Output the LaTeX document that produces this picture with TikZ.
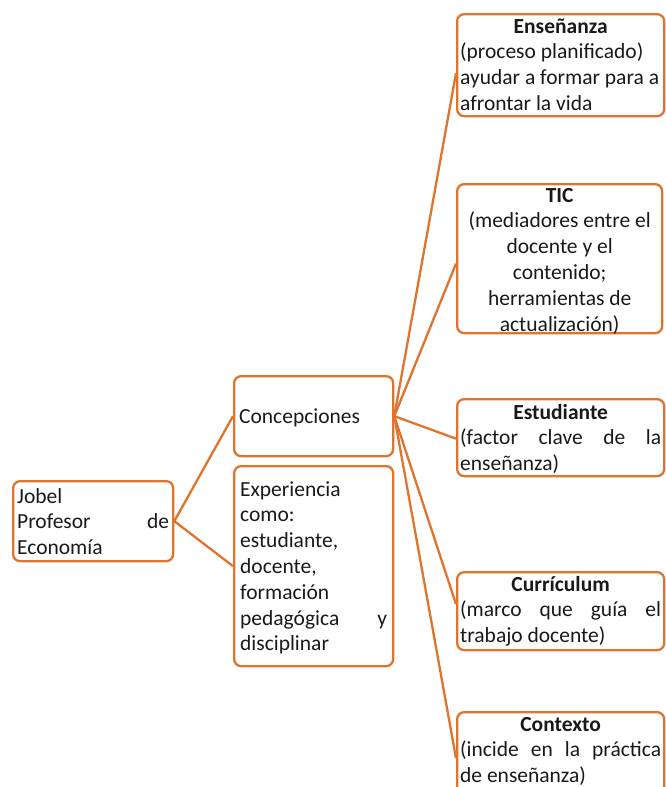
\documentclass[tikz,border=0pt]{standalone}
\usepackage{fontspec}
\setmainfont{Carlito}
\definecolor{orng}{RGB}{222,116,46}
\definecolor{txt}{RGB}{25,25,25}
\newcommand{\diagfont}{\fontsize{21.5}{25.8}\selectfont}
\tikzset{
  box/.style={draw=orng, line width=2.3pt, rounded corners=7pt, inner ysep=0pt,
    text=txt, anchor=north west, font=\diagfont},
  link/.style={draw=orng, line width=2.3pt},
}
\begin{document}
\begin{tikzpicture}[x=1pt,y=-1pt]
\useasboundingbox (0,0) rectangle (666,787);
% left
\node[box, inner xsep=4pt] (jobel) at (12,480)
  {\parbox[c][80pt][t]{152pt}{\rule{0pt}{22pt}Jobel\\
   \makebox[\linewidth][s]{Profesor de}\\
   Economía}};
% middle
\node[box, inner xsep=5pt] (conc) at (233,375)
  {\parbox[c][80pt][t]{149pt}{\rule{0pt}{47pt}Concepciones}};
\node[box, inner xsep=6pt] (exp) at (233,465)
  {\parbox[c][200pt][t]{147pt}{\rule{0pt}{30pt}Experiencia\\
   como:\\
   estudiante,\\
   docente,\\
   formación\\
   \makebox[\linewidth][s]{pedagógica y}\\
   disciplinar}};
% right
\node[box, inner xsep=3pt] (ens) at (456,13)
  {\parbox[c][102pt][t]{201pt}{\rule{0pt}{19pt}\makebox[\linewidth][c]{\textbf{Enseñanza}}\\
   (proceso planificado)\\
   ayudar a formar para a\\
   afrontar la vida}};
\node[box, inner xsep=3pt] (tic) at (456,183)
  {\parbox[c][149pt][t]{199pt}{\centering\rule{0pt}{18pt}\textbf{TIC}\\
   (mediadores entre el\\
   docente y el\\
   contenido;\\
   herramientas de\\
   actualización)}};
\node[box, inner xsep=3pt] (est) at (456,398)
  {\parbox[c][77pt][t]{201pt}{\rule{0pt}{20pt}\makebox[\linewidth][c]{\textbf{Estudiante}}\\
   \makebox[\linewidth][s]{(factor clave de la}\\
   enseñanza)}};
\node[box, inner xsep=3pt] (cur) at (456,571)
  {\parbox[c][78pt][t]{201pt}{\rule{0pt}{19pt}\makebox[\linewidth][c]{\textbf{Currículum}}\\
   \makebox[\linewidth][s]{(marco que guía el}\\
   trabajo docente)}};
\node[box, inner xsep=3pt] (ctx) at (456,711)
  {\parbox[c][84pt][t]{201pt}{\rule{0pt}{19pt}\makebox[\linewidth][c]{\textbf{Contexto}}\\
   \makebox[\linewidth][s]{(incide en la práctica}\\
   de enseñanza)}};
% connectors
\draw[link] (jobel.east) -- (conc.west);
\draw[link] (jobel.east) -- (exp.west);
\draw[link] (conc.east) -- ([yshift=-8pt]ens.west);
\draw[link] (conc.east) -- ([yshift=-5pt]tic.west);
\draw[link] (conc.east) -- ([yshift=-1pt]est.west);
\draw[link] (conc.east) -- ([yshift=7pt]cur.west);
\draw[link] (conc.east) -- ([yshift=-4pt]ctx.west);
\end{tikzpicture}
\end{document}
